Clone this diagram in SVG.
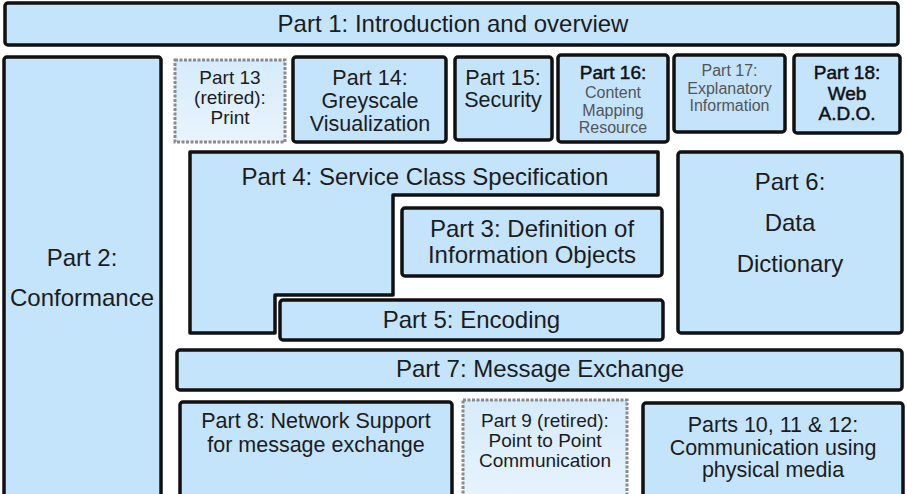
<svg xmlns="http://www.w3.org/2000/svg" width="907" height="494" viewBox="0 0 907 494">
<defs>
<linearGradient id="ret" x1="0" y1="0" x2="0" y2="1">
<stop offset="0" stop-color="#d6ebfb"/>
<stop offset="1" stop-color="#e8f4fd"/>
</linearGradient>
</defs>
<style>
.b{fill:#c4e4fb;stroke:#111;stroke-width:3.5;stroke-linejoin:round}
.r{fill:url(#ret);stroke:#8a8a8a;stroke-width:3;stroke-dasharray:3 1.5}
text{font-family:"Liberation Sans",Arial,sans-serif;fill:#1c1c1c;text-anchor:middle}
.t24{font-size:24px}
.t22{font-size:21.5px}
.t19{font-size:19px}
.bd{font-size:19px;fill:#111;stroke:#111;stroke-width:0.5}
.lt{font-size:16px;fill:#555}
</style>
<rect width="907" height="494" fill="#fff"/>

<g id="part1">
<rect class="b" x="5" y="3" width="893" height="42" rx="3"/>
<text class="t24" x="453" y="32">Part 1: Introduction and overview</text>
</g>

<g id="part2">
<rect class="b" x="4" y="57" width="157" height="450" rx="3"/>
<text class="t24" x="82" y="266">Part 2:</text>
<text class="t24" x="82" y="306">Conformance</text>
</g>

<g id="part13">
<rect class="r" x="175" y="60" width="110" height="82"/>
<text class="t19" x="230" y="84">Part 13</text>
<text class="t19" x="230" y="104">(retired):</text>
<text class="t19" x="230" y="124">Print</text>
</g>

<g id="part14">
<rect class="b" x="293" y="57" width="153" height="85" rx="3"/>
<text class="t22" x="370" y="85">Part 14:</text>
<text class="t22" x="370" y="108">Greyscale</text>
<text class="t22" x="370" y="131">Visualization</text>
</g>

<g id="part15">
<rect class="b" x="455" y="57" width="97" height="83" rx="3"/>
<text class="t22" x="503" y="85">Part 15:</text>
<text class="t22" x="503" y="107">Security</text>
</g>

<g id="part16">
<rect class="b" x="558" y="55" width="110" height="87" rx="3"/>
<text class="bd" x="613" y="79">Part 16:</text>
<text class="lt" x="613" y="98">Content</text>
<text class="lt" x="613" y="116">Mapping</text>
<text class="lt" x="613" y="133">Resource</text>
</g>

<g id="part17">
<rect class="b" x="674" y="55" width="111" height="77" rx="3"/>
<text class="lt" x="729.5" y="76">Part 17:</text>
<text class="lt" x="729.5" y="94">Explanatory</text>
<text class="lt" x="729.5" y="111">Information</text>
</g>

<g id="part18">
<rect class="b" x="794" y="55" width="106" height="78" rx="3"/>
<text class="bd" x="847" y="79">Part 18:</text>
<text class="bd" x="847" y="100">Web</text>
<text class="bd" x="847" y="120">A.D.O.</text>
</g>

<g id="part4">
<path class="b" d="M190,152 H658 V195 H393 V295 H275 V333 H190 Z"/>
<text class="t24" x="425" y="185">Part 4: Service Class Specification</text>
</g>

<g id="part3">
<rect class="b" x="402" y="208" width="260" height="68" rx="3"/>
<text class="t24" x="532" y="237">Part 3: Definition of</text>
<text class="t24" x="532" y="263">Information Objects</text>
</g>

<g id="part5">
<rect class="b" x="280" y="300" width="383" height="40" rx="3"/>
<text class="t24" x="471.5" y="328">Part 5: Encoding</text>
</g>

<g id="part6">
<rect class="b" x="678" y="152" width="224" height="181" rx="3"/>
<text class="t24" x="790" y="190">Part 6:</text>
<text class="t24" x="790" y="231">Data</text>
<text class="t24" x="790" y="272">Dictionary</text>
</g>

<g id="part7">
<rect class="b" x="177" y="350" width="725" height="40" rx="3"/>
<text class="t24" x="540" y="377">Part 7: Message Exchange</text>
</g>

<g id="part8">
<rect class="b" x="180" y="402" width="272" height="110" rx="3"/>
<text class="t22" x="316" y="428">Part 8: Network Support</text>
<text class="t22" x="316" y="452">for message exchange</text>
</g>

<g id="part9">
<rect class="r" x="463" y="400" width="164" height="110"/>
<text class="t19" x="545" y="427">Part 9 (retired):</text>
<text class="t19" x="545" y="447">Point to Point</text>
<text class="t19" x="545" y="467">Communication</text>
</g>

<g id="parts10-12">
<rect class="b" x="643" y="403" width="260" height="110" rx="3"/>
<text class="t22" x="773" y="432">Parts 10, 11 &amp; 12:</text>
<text class="t22" x="773" y="455">Communication using</text>
<text class="t22" x="773" y="477">physical media</text>
</g>

<g id="connectors"/>
</svg>
